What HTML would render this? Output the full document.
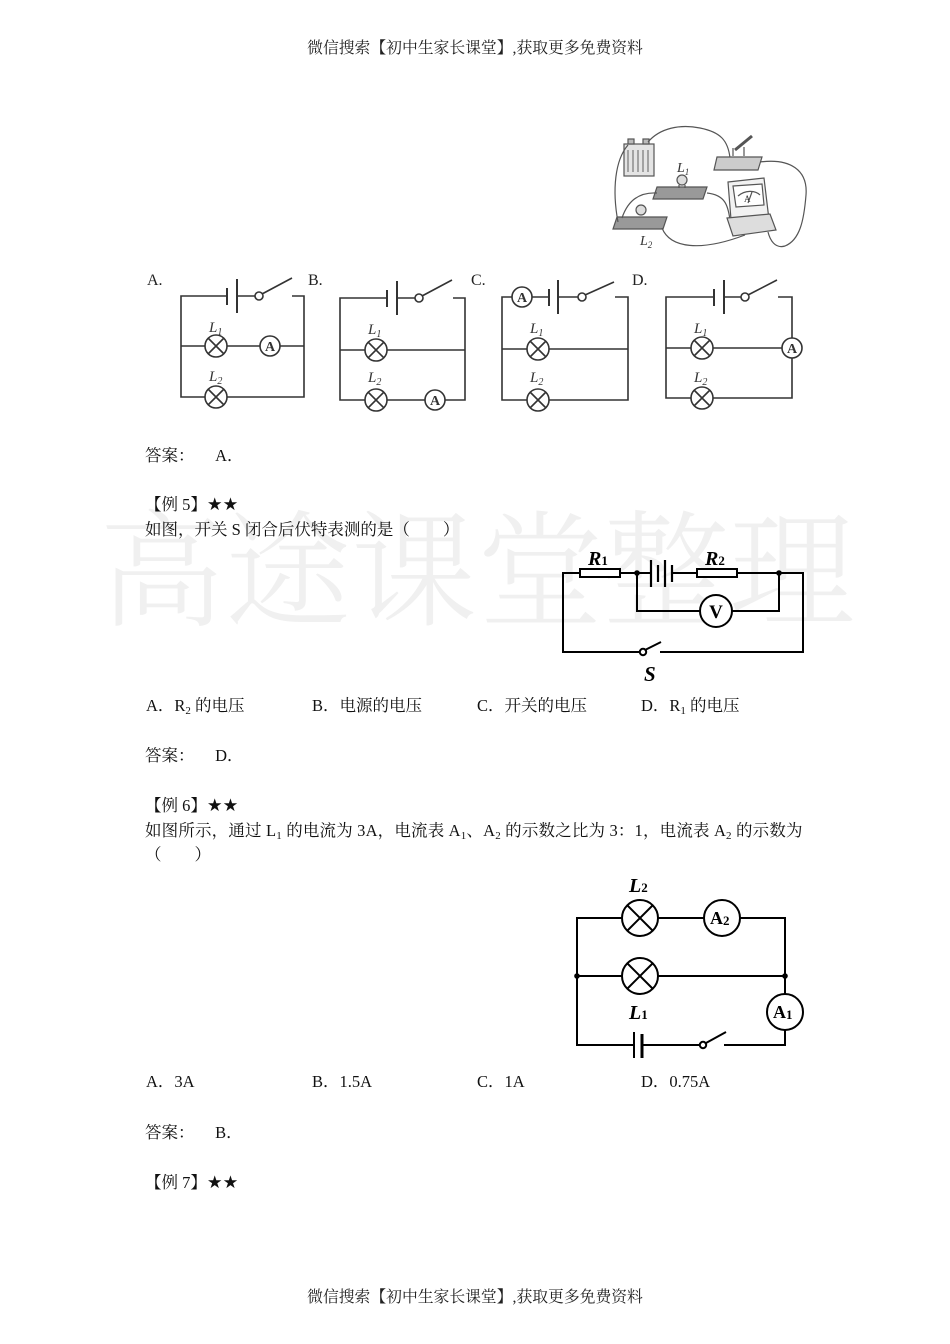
<!DOCTYPE html>
<html><head><meta charset="utf-8">
<style>
html,body{margin:0;padding:0;background:#fff;}
body{width:950px;height:1344px;position:relative;overflow:hidden;font-family:"Liberation Serif","Noto Serif CJK SC",serif;color:#111;}
.t{position:absolute;font-size:16.5px;line-height:20px;white-space:nowrap;}
.h{position:absolute;font-size:15.8px;line-height:20px;white-space:nowrap;left:0;width:950px;text-align:center;color:#222;}
.wm{position:absolute;left:99px;top:500px;font-size:126px;line-height:126px;white-space:nowrap;color:#f0f0f0;font-family:"Noto Serif CJK SC",serif;font-weight:300;}
sub{font-size:11px;vertical-align:-3px;line-height:0;}
.st{font-weight:bold;font-family:"DejaVu Sans",sans-serif;font-size:17.5px;}
svg{position:absolute;left:0;top:0;}
</style></head><body>
<div class="wm">高途课堂整理</div>

<div class="h" style="top:39px;">微信搜索【初中生家长课堂】,获取更多免费资料</div>
<div class="h" style="top:1288px;">微信搜索【初中生家长课堂】,获取更多免费资料</div>

<div class="t" style="left:145px;top:446px;">答案：&nbsp;&nbsp;&nbsp;&nbsp;&nbsp;A．</div>
<div class="t" style="left:145px;top:495px;">【例 5】<span class="st">★★</span></div>
<div class="t" style="left:145px;top:520px;">如图，开关 S 闭合后伏特表测的是（　　）</div>

<div class="t" style="left:146px;top:696px;">A．R<sub>2</sub> 的电压</div>
<div class="t" style="left:312px;top:696px;">B．电源的电压</div>
<div class="t" style="left:477px;top:696px;">C．开关的电压</div>
<div class="t" style="left:641px;top:696px;">D．R<sub>1</sub> 的电压</div>

<div class="t" style="left:145px;top:746px;">答案：&nbsp;&nbsp;&nbsp;&nbsp;&nbsp;D．</div>
<div class="t" style="left:145px;top:796px;">【例 6】<span class="st">★★</span></div>
<div class="t" style="left:145px;top:821px;letter-spacing:0.17px;">如图所示，通过 L<sub>1</sub> 的电流为 3A，电流表 A<sub>1</sub>、A<sub>2</sub> 的示数之比为 3：1，电流表 A<sub>2</sub> 的示数为</div>
<div class="t" style="left:145px;top:845px;">（　　）</div>

<div class="t" style="left:146px;top:1072px;">A．3A</div>
<div class="t" style="left:312px;top:1072px;">B．1.5A</div>
<div class="t" style="left:477px;top:1072px;">C．1A</div>
<div class="t" style="left:641px;top:1072px;">D．0.75A</div>

<div class="t" style="left:145px;top:1123px;">答案：&nbsp;&nbsp;&nbsp;&nbsp;&nbsp;B．</div>
<div class="t" style="left:145px;top:1173px;">【例 7】<span class="st">★★</span></div>

<svg width="950" height="1344" viewBox="0 0 950 1344" xmlns="http://www.w3.org/2000/svg">
<!-- Photo sketch -->
<g stroke="#555" fill="none" stroke-width="1.2">
  <rect x="624" y="144" width="30" height="32" fill="#e4e4e4"/>
  <path d="M628 150v22M633 150v22M638 150v22M643 150v22M648 150v22" stroke="#777"/>
  <rect x="628" y="139" width="6" height="5" fill="#bbb"/>
  <rect x="643" y="139" width="6" height="5" fill="#bbb"/>
  <path d="M648 142 C660 128,680 124,700 128 C720 132,728 140,730 158"/>
  <path d="M717 157 L762 157 L758 170 L714 170 Z" fill="#ccc"/>
  <path d="M733 156 L733 148 M744 156 L744 147"/>
  <path d="M735 150 L752 136" stroke-width="3"/>
  <path d="M760 162 C790 158,808 170,806 195 C804 220,800 240,785 246 C775 249,770 240,768 232"/>
  <path d="M657 187 L707 187 L703 199 L653 199 Z" fill="#999"/>
  <circle cx="682" cy="180" r="5" fill="#ddd"/>
  <path d="M679 185 v3 M685 185 v3"/>
  <path d="M617 217 L667 217 L663 229 L613 229 Z" fill="#999"/>
  <circle cx="641" cy="210" r="5" fill="#ddd"/>
  <path d="M628 145 C615 160,612 190,618 222"/>
  <path d="M657 193 C640 192,628 200,622 218"/>
  <path d="M707 193 C725 195,728 205,730 220"/>
  <path d="M662 228 C670 248,700 252,745 235"/>
  <path d="M728 182 L764 178 L770 228 L732 232 Z" fill="#f2f2f2"/>
  <path d="M733 186 L762 184 L764 205 L736 207 Z" fill="#fff"/>
  <path d="M738 196 C745 190,755 190,760 195"/>
  <path d="M748 203 L752 192"/>
  <path d="M727 218 L770 214 L776 230 L733 236 Z" fill="#ddd"/>
</g>
<g font-family="Liberation Serif" font-style="italic" fill="#333">
  <text x="677" y="172" font-size="14">L<tspan font-size="9" dy="3">1</tspan></text>
  <text x="640" y="245" font-size="14">L<tspan font-size="9" dy="3">2</tspan></text>
  <text x="744" y="202" font-size="9" font-style="normal">A</text>
</g>

<!-- Option labels -->
<g font-family="Liberation Serif" font-size="16" fill="#222">
  <text x="147" y="285">A.</text>
  <text x="308" y="285">B.</text>
  <text x="471" y="285">C.</text>
  <text x="632" y="285">D.</text>
</g>

<!-- Circuits A-D -->
<g stroke="#333" stroke-width="1.6" fill="none">
  <!-- A -->
  <path d="M227 296H181V397H205M227 397H304V296H292"/>
  <path d="M227 288V305M237 279V313" stroke-width="2"/>
  <path d="M237 296H255M262 294L292 278"/>
  <circle cx="259" cy="296" r="4" fill="#fff"/>
  <path d="M181 346H205M227 346H260M280 346H304"/>
  <circle cx="216" cy="346" r="11"/><path d="M208 338L224 354M224 338L208 354"/>
  <circle cx="216" cy="397" r="11"/><path d="M208 389L224 405M224 389L208 405"/>
  <circle cx="270" cy="346" r="10"/>
  <!-- B -->
  <path d="M387 298H340V400H365M387 400H425M445 400H465V298H453"/>
  <path d="M387 290V307M397 281V315" stroke-width="2"/>
  <path d="M397 298H415M422 296L452 280"/>
  <circle cx="419" cy="298" r="4" fill="#fff"/>
  <path d="M340 350H365M387 350H465"/>
  <circle cx="376" cy="350" r="11"/><path d="M368 342L384 358M384 342L368 358"/>
  <circle cx="376" cy="400" r="11"/><path d="M368 392L384 408M384 392L368 408"/>
  <circle cx="435" cy="400" r="10"/>
  <!-- C -->
  <path d="M512 297H502V400H527M549 400H628V297H615"/>
  <path d="M532 297H549"/>
  <path d="M549 289V306M558 280V314" stroke-width="2"/>
  <path d="M558 297H578M585 295L614 282"/>
  <circle cx="582" cy="297" r="4" fill="#fff"/>
  <circle cx="522" cy="297" r="10"/>
  <path d="M502 349H527M549 349H628"/>
  <circle cx="538" cy="349" r="11"/><path d="M530 341L546 357M546 341L530 357"/>
  <circle cx="538" cy="400" r="11"/><path d="M530 392L546 408M546 392L530 408"/>
  <!-- D -->
  <path d="M714 297H666V398H691M713 398H792V358M792 338V297H778"/>
  <path d="M714 289V306M724 280V314" stroke-width="2"/>
  <path d="M724 297H741M748 295L777 280"/>
  <circle cx="745" cy="297" r="4" fill="#fff"/>
  <path d="M666 348H691M713 348H782"/>
  <circle cx="792" cy="348" r="10"/>
  <circle cx="702" cy="348" r="11"/><path d="M694 340L710 356M710 340L694 356"/>
  <circle cx="702" cy="398" r="11"/><path d="M694 390L710 406M710 390L694 406"/>
</g>
<g font-family="Liberation Serif" fill="#333" font-size="14" font-weight="bold" text-anchor="middle">
  <text x="270" y="351">A</text>
  <text x="435" y="405">A</text>
  <text x="522" y="302">A</text>
  <text x="792" y="353">A</text>
</g>
<g font-family="Liberation Serif" font-style="italic" fill="#333" font-size="15">
  <text x="209" y="332">L<tspan font-size="10" dy="3">1</tspan></text>
  <text x="209" y="381">L<tspan font-size="10" dy="3">2</tspan></text>
  <text x="368" y="334">L<tspan font-size="10" dy="3">1</tspan></text>
  <text x="368" y="382">L<tspan font-size="10" dy="3">2</tspan></text>
  <text x="530" y="333">L<tspan font-size="10" dy="3">1</tspan></text>
  <text x="530" y="382">L<tspan font-size="10" dy="3">2</tspan></text>
  <text x="694" y="333">L<tspan font-size="10" dy="3">1</tspan></text>
  <text x="694" y="382">L<tspan font-size="10" dy="3">2</tspan></text>
</g>

<!-- Example 5 circuit -->
<g stroke="#000" stroke-width="2" fill="none">
  <path d="M580 573H563V652H640M660 652H803V573H737"/>
  <path d="M620 573H651M672 573H697"/>
  <rect x="580" y="569" width="40" height="8" fill="#fff"/>
  <rect x="697" y="569" width="40" height="8" fill="#fff"/>
  <path d="M651 560V587M658 565V582M665 560V587M672 565V582" stroke-width="2.2"/>
  <path d="M637 573V611H700M732 611H779V573"/>
  <circle cx="716" cy="611" r="16" fill="#fff"/>
  <circle cx="643" cy="652" r="3.2" fill="#fff"/>
  <path d="M645 650L661 642"/>
</g>
<circle cx="637" cy="573" r="2.8" fill="#000"/>
<circle cx="779" cy="573" r="2.8" fill="#000"/>
<g font-family="Liberation Serif" fill="#000" font-weight="bold">
  <text x="716" y="618" font-size="19" text-anchor="middle">V</text>
  <text x="588" y="565" font-size="20" font-style="italic">R<tspan font-size="13" font-style="normal" dy="0">1</tspan></text>
  <text x="705" y="565" font-size="20" font-style="italic">R<tspan font-size="13" font-style="normal" dy="0">2</tspan></text>
  <text x="644" y="681" font-size="21" font-style="italic">S</text>
</g>

<!-- Example 6 circuit -->
<g stroke="#000" stroke-width="2" fill="none">
  <path d="M622 918H577V1045H634M642 1045H700M724 1045H785V1030M785 994V918H740"/>
  <path d="M658 918H704"/>
  <path d="M577 976H622M658 976H785"/>
  <path d="M634 1032V1058" stroke-width="2"/>
  <path d="M642 1034V1058" stroke-width="3"/>
  <circle cx="640" cy="918" r="18"/>
  <path d="M627 905L653 931M653 905L627 931"/>
  <circle cx="640" cy="976" r="18"/>
  <path d="M627 963L653 989M653 963L627 989"/>
  <circle cx="722" cy="918" r="18" fill="#fff"/>
  <circle cx="785" cy="1012" r="18" fill="#fff"/>
  <circle cx="703" cy="1045" r="3.2" fill="#fff"/>
  <path d="M706 1043L726 1032"/>
</g>
<circle cx="577" cy="976" r="2.8" fill="#000"/>
<circle cx="785" cy="976" r="2.8" fill="#000"/>
<g font-family="Liberation Serif" fill="#000" font-weight="bold">
  <text x="710" y="924" font-size="18">A<tspan font-size="13" dy="1">2</tspan></text>
  <text x="773" y="1018" font-size="18">A<tspan font-size="13" dy="1">1</tspan></text>
  <text x="629" y="892" font-size="20" font-style="italic">L<tspan font-size="13" font-style="normal">2</tspan></text>
  <text x="629" y="1019" font-size="20" font-style="italic">L<tspan font-size="13" font-style="normal">1</tspan></text>
</g>
</svg>
</body></html>
